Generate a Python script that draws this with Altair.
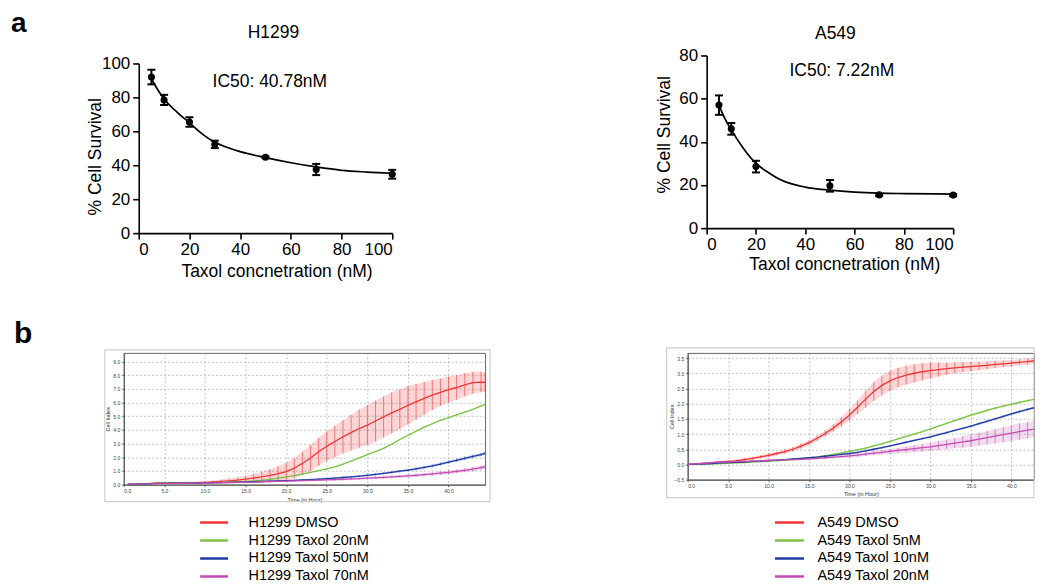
import altair as alt
import pandas as pd

FONT = "Liberation Sans"

# ---------------- panel a : dose response ----------------
h1299_dose = [5, 10, 20, 30, 50, 70, 100]
h1299_surv = [92.0, 78.5, 65.5, 52.3, 44.7, 37.5, 34.7]
h1299_sem = [4.3, 3.0, 2.8, 2.2, 0.5, 3.3, 2.6]
h1299_fit_x = [5, 7.5, 10, 15, 20, 25, 30, 35, 40, 50, 60, 70, 80, 90, 100]
h1299_fit_y = [91.0, 84.5, 79, 71.5, 65, 58.5, 53.5, 50.5, 48, 44.5, 41.5, 39, 37, 36, 35.3]

a549_dose = [5, 10, 20, 50, 70, 100]
a549_surv = [57.0, 46.0, 28.5, 19.6, 15.4, 15.3]
a549_sem = [4.5, 2.7, 2.7, 2.7, 0.5, 0.5]
a549_fit_x = [5, 7.5, 10, 15, 20, 25, 30, 40, 50, 60, 70, 80, 100]
a549_fit_y = [57.0, 50.5, 45.5, 36.8, 30, 25.8, 22.4, 19, 17.6, 16.7, 16.2, 16, 15.8]

# ---------------- panel b : real-time cell index ----------------
h1299_names = ["H1299 DMSO", "H1299 Taxol 20nM", "H1299 Taxol 50nM", "H1299 Taxol 70nM"]
h1299_time = [0.5, 1, 2, 3, 4, 5, 6, 7, 8, 9, 10, 11, 12, 13, 14, 15, 16, 17, 18, 19, 20, 21, 22,
              23, 24, 25, 26, 27, 28, 29, 30, 31, 32, 33, 34, 35, 36, 37, 38, 39, 40, 41, 42, 43, 44, 44.5]
h1299_dmso = [0.02, 0.03, 0.05, 0.07, 0.12, 0.12, 0.12, 0.13, 0.14, 0.15, 0.17, 0.20, 0.24, 0.28, 0.33,
              0.40, 0.48, 0.57, 0.68, 0.80, 0.95, 1.20, 1.55, 1.95, 2.40, 2.80, 3.15, 3.50, 3.80, 4.10,
              4.35, 4.65, 4.95, 5.25, 5.50, 5.80, 6.05, 6.30, 6.55, 6.75, 6.95, 7.10, 7.30, 7.45, 7.50, 7.48]
h1299_dmso_err = [0.04, 0.04, 0.05, 0.05, 0.06, 0.06, 0.06, 0.06, 0.07, 0.07, 0.08, 0.10, 0.13, 0.16, 0.20,
                  0.25, 0.30, 0.38, 0.45, 0.55, 0.65, 0.75, 0.85, 0.95, 1.02, 1.08, 1.15, 1.22, 1.30, 1.40,
                  1.45, 1.50, 1.50, 1.50, 1.45, 1.40, 1.30, 1.20, 1.10, 1.00, 0.95, 0.90, 0.85, 0.80, 0.75, 0.70]
h1299_t20 = [0.02, 0.03, 0.04, 0.06, 0.10, 0.10, 0.10, 0.11, 0.12, 0.13, 0.14, 0.15, 0.17, 0.19, 0.21,
             0.24, 0.28, 0.33, 0.39, 0.48, 0.57, 0.66, 0.77, 0.90, 1.02, 1.15, 1.30, 1.50, 1.72, 1.95,
             2.20, 2.42, 2.65, 2.95, 3.30, 3.60, 3.90, 4.20, 4.45, 4.70, 4.90, 5.10, 5.30, 5.50, 5.75, 5.85]
h1299_t20_err = [0.02, 0.02, 0.02, 0.02, 0.02, 0.02, 0.02, 0.02, 0.02, 0.02, 0.02, 0.02, 0.02, 0.02, 0.02,
                 0.03, 0.03, 0.03, 0.03, 0.03, 0.03, 0.03, 0.03, 0.03, 0.03, 0.04, 0.04, 0.04, 0.04, 0.04,
                 0.04, 0.04, 0.04, 0.05, 0.05, 0.05, 0.05, 0.05, 0.05, 0.05, 0.05, 0.05, 0.05, 0.05, 0.05, 0.05]
h1299_t50 = [0.02, 0.03, 0.04, 0.06, 0.09, 0.09, 0.10, 0.10, 0.11, 0.12, 0.13, 0.14, 0.15, 0.17, 0.18,
             0.20, 0.21, 0.23, 0.25, 0.27, 0.29, 0.31, 0.34, 0.37, 0.40, 0.43, 0.47, 0.52, 0.57, 0.62,
             0.68, 0.75, 0.82, 0.90, 0.98, 1.06, 1.16, 1.26, 1.37, 1.50, 1.65, 1.78, 1.92, 2.06, 2.20, 2.28]
h1299_t50_err = [0.03, 0.03, 0.03, 0.03, 0.03, 0.03, 0.03, 0.03, 0.03, 0.03, 0.03, 0.03, 0.04, 0.04, 0.04,
                 0.04, 0.04, 0.04, 0.05, 0.05, 0.05, 0.05, 0.05, 0.06, 0.06, 0.06, 0.06, 0.07, 0.07, 0.07,
                 0.08, 0.08, 0.08, 0.09, 0.09, 0.09, 0.10, 0.10, 0.10, 0.11, 0.11, 0.11, 0.12, 0.12, 0.12, 0.12]
h1299_t70 = [0.02, 0.03, 0.04, 0.05, 0.07, 0.08, 0.08, 0.09, 0.10, 0.11, 0.12, 0.13, 0.14, 0.15, 0.16,
             0.18, 0.19, 0.21, 0.22, 0.24, 0.26, 0.27, 0.29, 0.31, 0.33, 0.35, 0.37, 0.39, 0.42, 0.44,
             0.47, 0.50, 0.53, 0.56, 0.60, 0.64, 0.68, 0.73, 0.78, 0.84, 0.90, 0.97, 1.05, 1.14, 1.24, 1.30]
h1299_t70_err = [0.03, 0.03, 0.03, 0.03, 0.03, 0.03, 0.03, 0.03, 0.03, 0.03, 0.04, 0.04, 0.04, 0.04, 0.04,
                 0.05, 0.05, 0.05, 0.05, 0.05, 0.06, 0.06, 0.06, 0.06, 0.07, 0.07, 0.07, 0.08, 0.08, 0.08,
                 0.09, 0.09, 0.10, 0.10, 0.11, 0.11, 0.12, 0.12, 0.13, 0.13, 0.14, 0.14, 0.15, 0.15, 0.15, 0.15]

a549_names = ["A549 DMSO", "A549 Taxol 5nM", "A549 Taxol 10nM", "A549 Taxol 20nM"]
a549_time = [0, 1, 2, 3, 4, 5, 6, 7, 8, 9, 10, 11, 12, 13, 14, 15, 16, 17, 18, 19, 20, 21, 22,
             23, 24, 25, 26, 27, 28, 29, 30, 31, 32, 33, 34, 35, 36, 37, 38, 39, 40, 41, 42, 43, 43.7]
a549_dmso = [0.00, 0.01, 0.03, 0.05, 0.08, 0.10, 0.12, 0.16, 0.20, 0.25, 0.30, 0.36, 0.42, 0.50, 0.60,
             0.72, 0.86, 1.02, 1.20, 1.40, 1.63, 1.88, 2.15, 2.40, 2.60, 2.75, 2.86, 2.94, 3.00, 3.05,
             3.09, 3.12, 3.15, 3.18, 3.20, 3.22, 3.24, 3.26, 3.29, 3.31, 3.33, 3.36, 3.38, 3.41, 3.43]
a549_dmso_err = [0.02, 0.02, 0.03, 0.03, 0.04, 0.04, 0.04, 0.05, 0.05, 0.05, 0.06, 0.06, 0.07, 0.07, 0.08,
                 0.08, 0.09, 0.10, 0.12, 0.15, 0.19, 0.23, 0.28, 0.31, 0.33, 0.33, 0.32, 0.31, 0.30, 0.28,
                 0.26, 0.23, 0.20, 0.18, 0.16, 0.15, 0.14, 0.13, 0.12, 0.11, 0.11, 0.10, 0.10, 0.10, 0.10]
a549_t5 = [0.00, 0.00, 0.01, 0.02, 0.03, 0.04, 0.05, 0.06, 0.08, 0.09, 0.11, 0.12, 0.14, 0.16, 0.19,
           0.22, 0.25, 0.29, 0.33, 0.38, 0.43, 0.48, 0.54, 0.61, 0.68, 0.76, 0.84, 0.92, 1.00, 1.08,
           1.17, 1.26, 1.35, 1.44, 1.53, 1.62, 1.70, 1.78, 1.85, 1.92, 1.98, 2.04, 2.10, 2.15, 2.18]
a549_t5_err = [0.02, 0.02, 0.02, 0.02, 0.02, 0.02, 0.02, 0.02, 0.02, 0.02, 0.02, 0.02, 0.02, 0.02, 0.02,
               0.02, 0.02, 0.02, 0.02, 0.02, 0.03, 0.03, 0.03, 0.03, 0.03, 0.03, 0.03, 0.03, 0.03, 0.03,
               0.03, 0.03, 0.03, 0.03, 0.03, 0.04, 0.04, 0.04, 0.04, 0.04, 0.04, 0.04, 0.04, 0.04, 0.04]
a549_t10 = [0.00, 0.01, 0.02, 0.03, 0.05, 0.06, 0.07, 0.08, 0.10, 0.11, 0.13, 0.14, 0.16, 0.18, 0.20,
            0.22, 0.24, 0.27, 0.30, 0.33, 0.36, 0.40, 0.45, 0.50, 0.55, 0.61, 0.67, 0.73, 0.79, 0.85,
            0.91, 0.98, 1.05, 1.12, 1.19, 1.26, 1.34, 1.42, 1.50, 1.58, 1.66, 1.74, 1.81, 1.88, 1.92]
a549_t10_err = [0.02, 0.02, 0.02, 0.02, 0.02, 0.02, 0.02, 0.02, 0.02, 0.02, 0.02, 0.02, 0.02, 0.02, 0.02,
                0.02, 0.02, 0.02, 0.02, 0.02, 0.03, 0.03, 0.03, 0.03, 0.03, 0.03, 0.03, 0.03, 0.03, 0.03,
                0.03, 0.03, 0.03, 0.03, 0.03, 0.04, 0.04, 0.04, 0.04, 0.04, 0.04, 0.04, 0.04, 0.04, 0.04]
a549_t20 = [0.00, 0.02, 0.04, 0.06, 0.08, 0.08, 0.09, 0.10, 0.11, 0.12, 0.13, 0.14, 0.15, 0.16, 0.17,
            0.18, 0.20, 0.22, 0.24, 0.26, 0.28, 0.31, 0.34, 0.37, 0.40, 0.43, 0.46, 0.49, 0.52, 0.55,
            0.58, 0.62, 0.66, 0.70, 0.74, 0.78, 0.83, 0.88, 0.93, 0.98, 1.03, 1.08, 1.13, 1.17, 1.19]
a549_t20_err = [0.03, 0.03, 0.03, 0.03, 0.03, 0.03, 0.03, 0.03, 0.03, 0.03, 0.03, 0.03, 0.03, 0.03, 0.03,
                0.04, 0.04, 0.04, 0.04, 0.04, 0.05, 0.06, 0.06, 0.07, 0.07, 0.08, 0.09, 0.10, 0.11, 0.12,
                0.13, 0.14, 0.16, 0.17, 0.19, 0.20, 0.21, 0.22, 0.24, 0.25, 0.26, 0.27, 0.27, 0.28, 0.28]

kin_colors = ["#f03434", "#7cc242", "#1f3aa6", "#c24cb4"]


def label_layer(text, x, y, size=17.5, weight="normal", align="left", color="black"):
    return alt.Chart(pd.DataFrame({"label": [text]})).mark_text(
        font=FONT, fontSize=size, fontWeight=weight, align=align, baseline="alphabetic", color=color
    ).encode(text="label:N", x=alt.value(x), y=alt.value(y))


def dose_panel(dose, surv, sem, fx, fy, ymax, yticks, width, height, x0, y0,
               xtitle_x, xtitle_y, ytitle_x, ytitle_y, extras):
    xs = alt.Scale(domain=[0, 100], range=[x0, width], nice=False, zero=False)
    ys = alt.Scale(domain=[0, ymax], range=[height, y0], nice=False, zero=False)
    xaxis = alt.Axis(values=[0, 20, 40, 60, 80, 100], title="Taxol concnetration (nM)", grid=False,
                     domainColor="black", domainWidth=1.6, tickColor="black", tickWidth=1.6, tickSize=6,
                     labelFontSize=17, labelColor="black", labelPadding=2, titleFontSize=17.5,
                     titleFontWeight="normal", titleColor="black", titleX=xtitle_x, titleY=xtitle_y,
                     titleBaseline="alphabetic", titleAlign="center")
    yaxis = alt.Axis(values=yticks, title="% Cell Survival", grid=False, offset=-x0,
                     domainColor="black", domainWidth=1.6, tickColor="black", tickWidth=1.6, tickSize=6,
                     labelFontSize=17, labelColor="black", labelPadding=3, titleFontSize=17.5,
                     titleFontWeight="normal", titleColor="black", titleX=ytitle_x, titleY=ytitle_y,
                     titleBaseline="alphabetic", titleAlign="center")
    pts = pd.DataFrame({"dose": dose, "surv": surv,
                        "lo": [s - e for s, e in zip(surv, sem)],
                        "hi": [s + e for s, e in zip(surv, sem)]})
    fit = pd.DataFrame({"dose": fx, "surv": fy})

    def X(f):
        return alt.X(f, type="quantitative", scale=xs, axis=xaxis)

    def Y(f):
        return alt.Y(f, type="quantitative", scale=ys, axis=yaxis)

    curve = alt.Chart(fit).mark_line(color="black", strokeWidth=1.7, interpolate="monotone").encode(
        x=X("dose"), y=Y("surv"))
    bars = alt.Chart(pts).mark_rule(color="black", strokeWidth=2).encode(x=X("dose"), y=Y("lo"), y2="hi:Q")
    cap_lo = alt.Chart(pts).mark_tick(color="black", orient="horizontal", size=8, thickness=2, opacity=1).encode(
        x=X("dose"), y=Y("lo"))
    cap_hi = alt.Chart(pts).mark_tick(color="black", orient="horizontal", size=8, thickness=2, opacity=1).encode(
        x=X("dose"), y=Y("hi"))
    dots = alt.Chart(pts).mark_circle(color="black", size=50, opacity=1).encode(x=X("dose"), y=Y("surv"))
    return alt.layer(curve, bars, cap_lo, cap_hi, dots, *extras).properties(width=width, height=height)


def kinetic_panel(times, names, series, errs, tmax, ydom, yticks, width, height,
                  legend_x, legend_y, label_offset, symbol_size, xtitle_y, extras):
    rows = []
    for name, vals, es in zip(names, series, errs):
        for t, v, e in zip(times, vals, es):
            rows.append({"t": t, "series": name, "v": v, "lo": v - e, "hi": v + e})
    df = pd.DataFrame(rows)
    xs = alt.Scale(domain=[0, tmax], nice=False, zero=False)
    ys = alt.Scale(domain=ydom, nice=False, zero=False)
    common = dict(grid=True, gridColor="#9a9a9a", gridDash=[2, 2], gridWidth=0.6,
                  domainColor="#555555", domainWidth=1, tickColor="#555555", tickSize=2,
                  labelFontSize=5, labelColor="#444444", format=".1f",
                  titleFontSize=5.5, titleFontWeight="normal", titleColor="#333333",
                  titleBaseline="alphabetic", titleAlign="center")
    xaxis = alt.Axis(values=[0, 5, 10, 15, 20, 25, 30, 35, 40], title="Time (in Hour)",
                     labelPadding=2, titleX=width / 2, titleY=xtitle_y, **common)
    yaxis = alt.Axis(values=yticks, title="Cell Index", labelPadding=2,
                     titleX=-14, titleY=height / 2, **common)
    legend = alt.Legend(orient="none", legendX=legend_x, legendY=legend_y, title=None,
                        symbolType="stroke", symbolSize=symbol_size, symbolStrokeWidth=2.6,
                        symbolOpacity=1, labelFont=FONT, labelFontSize=14.5, labelColor="black",
                        labelOffset=label_offset, clipHeight=16, rowPadding=2, padding=0)
    color = alt.Color("series:N", scale=alt.Scale(domain=names, range=kin_colors), legend=legend)

    def X(f):
        return alt.X(f, type="quantitative", scale=xs, axis=xaxis)

    def Y(f):
        return alt.Y(f, type="quantitative", scale=ys, axis=yaxis)

    band = alt.Chart(df).mark_area(opacity=0.2, clip=True).encode(
        x=X("t"), y=Y("lo"), y2="hi:Q", color=color)
    errbar = alt.Chart(df).mark_rule(strokeWidth=1, opacity=0.6, clip=True).encode(
        x=X("t"), y=Y("lo"), y2="hi:Q", color=color)
    line = alt.Chart(df).mark_line(strokeWidth=1.3, clip=True).encode(x=X("t"), y=Y("v"), color=color)
    return alt.layer(*extras, band, errbar, line).properties(
        width=width, height=height, view=alt.ViewBackground(stroke="#666666", strokeWidth=1))


def frame_layer(x1, x2, y1, y2):
    return alt.Chart(pd.DataFrame({"k": [0]})).mark_rect(
        fill="transparent", stroke="#cfcfcf", strokeWidth=1.2
    ).encode(x=alt.value(x1), x2=alt.value(x2), y=alt.value(y1), y2=alt.value(y2))


a1 = dose_panel(h1299_dose, h1299_surv, h1299_sem, h1299_fit_x, h1299_fit_y, 100,
                [0, 20, 40, 60, 80, 100], 269, 178, 15, 8, 153, 43, -38, 101,
                [label_layer("a", -113, -24, size=28, weight="bold"),
                 label_layer("H1299", 150, -17.5, align="center"),
                 label_layer("IC50: 40.78nM", 89, 32)])
a2 = dose_panel(a549_dose, a549_surv, a549_sem, a549_fit_x, a549_fit_y, 80,
                [0, 20, 40, 60, 80], 266, 173, 19, 0, 157, 41, -37, 79,
                [label_layer("A549", 148, -17, align="center"),
                 label_layer("IC50: 7.22nM", 102, 21)])
b1 = kinetic_panel(h1299_time, h1299_names, [h1299_dmso, h1299_t20, h1299_t50, h1299_t70],
                   [h1299_dmso_err, h1299_t20_err, h1299_t50_err, h1299_t70_err],
                   44.5, [0, 9.63], [0, 1, 2, 3, 4, 5, 6, 7, 8, 9], 362, 132,
                   75, 162, 19, 784, 17,
                   [frame_layer(-19, 367, -3, 149),
                    label_layer("b", -110, -10, size=30, weight="bold")])
b2 = kinetic_panel(a549_time, a549_names, [a549_dmso, a549_t5, a549_t10, a549_t20],
                   [a549_dmso_err, a549_t5_err, a549_t10_err, a549_t20_err],
                   42.8, [-0.5, 3.67], [-0.5, 0, 0.5, 1, 1.5, 2, 2.5, 3, 3.5], 347, 127,
                   86, 162, 12, 841, 16,
                   [frame_layer(-21, 347, -5, 145)])

chart = alt.concat(a1, a2, b1, b2, columns=2,
                   spacing=alt.RowColnumber(row=120, column=203),
                   bounds="flush").resolve_scale(color="independent").properties(
    padding={"left": 2, "top": 0, "right": 0, "bottom": 0}
).configure_view(stroke="transparent").configure_axis(labelFont=FONT, titleFont=FONT)

chart.save("out.html", embed_options={"renderer": "svg", "actions": False})
